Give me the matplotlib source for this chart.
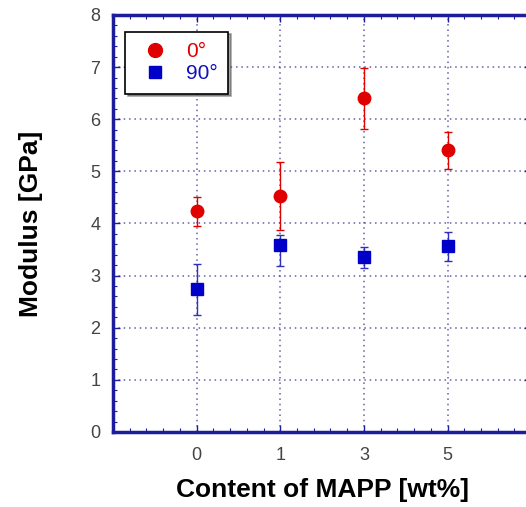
import matplotlib
matplotlib.use("Agg")
import matplotlib.pyplot as plt
from matplotlib.ticker import MultipleLocator
from matplotlib.lines import Line2D

categories = ["0", "1", "3", "5"]
mod_0 = [4.23, 4.52, 6.40, 5.40]
err_0 = [0.28, 0.65, 0.58, 0.35]
mod_90 = [2.74, 3.59, 3.35, 3.56]
err_90_low = [0.50, 0.40, 0.20, 0.28]
err_90_up = [0.48, 0.18, 0.19, 0.27]

plt.rcParams['font.family'] = ['Liberation Sans', 'DejaVu Sans']

fig = plt.figure(figsize=(5.26, 5.07), dpi=100)
ax = fig.add_axes([0.2148, 0.148, 0.795, 0.8225])

pos = list(range(len(categories)))
navy = '#1c1c9c'
red = '#e00000'
blue = '#0000c8'

ax.errorbar(pos, mod_0, yerr=err_0, fmt='o', color=red, ms=9,
            elinewidth=1, capsize=3, capthick=1, ecolor=red, zorder=3)
ax.errorbar(pos, mod_90, yerr=[err_90_low, err_90_up], fmt='s', color=blue, ms=9,
            elinewidth=1, capsize=3, capthick=1, ecolor='#3030c0', zorder=3)

ax.set_xlim(-1, 4)
ax.set_ylim(0, 8)
ax.set_xticks(pos)
ax.set_xticklabels(categories)
ax.yaxis.set_major_locator(MultipleLocator(1))
ax.yaxis.set_minor_locator(MultipleLocator(0.2))
ax.xaxis.set_minor_locator(MultipleLocator(0.2))

ax.grid(True, which='major', linestyle=(0, (1, 2.5)), color='#3a3a90', linewidth=1.1, alpha=0.8)
ax.set_axisbelow(True)

for s in ax.spines.values():
    s.set_color(navy)
    s.set_linewidth(2.5)

ax.tick_params(axis='both', which='major', direction='in', length=5, width=1,
               color=navy, labelsize=13, labelcolor='#444444', top=True, right=True)
ax.tick_params(axis='x', which='major', pad=11)
ax.tick_params(axis='y', which='major', pad=9)
ax.tick_params(axis='both', which='minor', direction='in', length=3, width=0.8,
               color=navy, top=True, right=True)

ax.set_xlabel('Content of MAPP [wt%]', fontsize=19, fontweight='bold', labelpad=10)
ax.set_ylabel('Modulus [GPa]', fontsize=19, fontweight='bold', labelpad=34)

handles = [Line2D([], [], marker='o', color=red, ls='none', ms=10),
           Line2D([], [], marker='s', color=blue, ls='none', ms=9)]
leg = ax.legend(handles, ['0°', '90°'], loc='upper left', bbox_to_anchor=(0.005, 0.985),
                fancybox=False, shadow=True, edgecolor='black', fontsize=15,
                handletextpad=0.6, borderpad=0.5, labelspacing=0.15, handlelength=1.8)
leg.get_frame().set_linewidth(1.2)
for t, c in zip(leg.get_texts(), ['#e00000', '#1010c0']):
    t.set_color(c)

fig.savefig('out.png', dpi=100)
